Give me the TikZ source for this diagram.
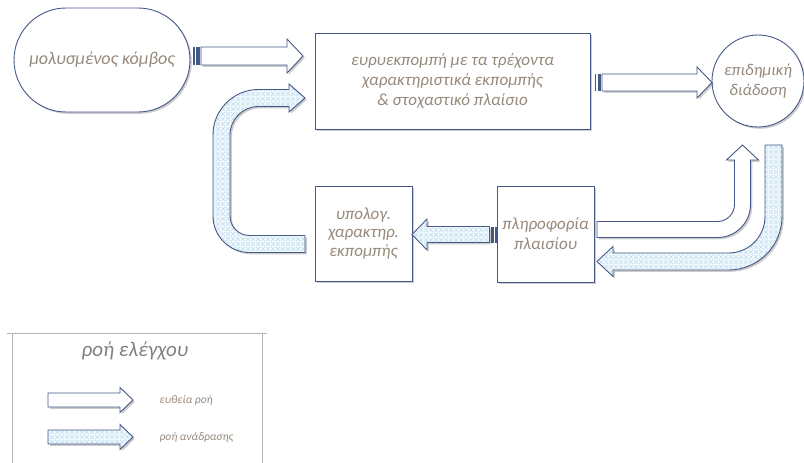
\documentclass[tikz,border=0pt]{standalone}
\usepackage{fontspec}
\setmainfont{Carlito}
\usetikzlibrary{patterns.meta,shadows}

\definecolor{edge}{RGB}{70,88,135}
\definecolor{txt}{RGB}{150,137,123}
\definecolor{hatchbg}{RGB}{242,249,253}
\definecolor{hatchln}{RGB}{192,222,240}
\definecolor{framegray}{RGB}{180,180,180}
\definecolor{titlegray}{RGB}{128,128,128}

% diagonal lattice used inside the feedback arrows
\tikzdeclarepattern{
  name=diamondgrid,
  type=uncolored,
  bounding box={(0pt,0pt) and (4.5pt,4.5pt)},
  tile size={(4.5pt,4.5pt)},
  code={
    \draw[line width=0.6pt] (0pt,0pt) -- (4.5pt,4.5pt) (0pt,4.5pt) -- (4.5pt,0pt);
  }
}

\tikzset{
  softshadow/.style={drop shadow={shadow xshift=1.8pt, shadow yshift=-1.8pt, fill=black, opacity=0.2}},
  box/.style={draw=edge, line width=0.9pt, fill=white, softshadow,
    font=\itshape\fontsize{17}{20}\selectfont, text=txt, align=center, inner sep=2pt},
  straightflow/.style={draw=edge, line width=0.9pt, fill=white, softshadow},
  feedbackflow/.style={draw=edge, line width=0.9pt, softshadow,
    preaction={fill=hatchbg}, pattern={diamondgrid}, pattern color=hatchln},
  stripe/.style={fill=edge, draw=none},
  legendtext/.style={font=\itshape\fontsize{11.5}{13}\selectfont, text=txt, anchor=west}
}

\begin{document}
\begin{tikzpicture}[x=1pt, y=-1pt]
\useasboundingbox (0,0) rectangle (804,463);

% ---------- nodes ----------
\node[box, rounded corners=52pt, minimum width=176pt, minimum height=104pt,
      font=\itshape\fontsize{18}{20}\selectfont] (infected) at (102,60) {μολυσμένος κόμβος};
\node[box, minimum width=275pt, minimum height=96pt] (broadcast) at (452.5,81)
  {ευρυεκπομπή με τα τρέχοντα\\χαρακτηριστικά εκπομπής\\\& στοχαστικό πλαίσιο};
\node[box, circle, minimum size=92pt, inner sep=0pt, font=\itshape\fontsize{16.5}{20}\selectfont]
  (spread) at (758,81) {επιδημική\\διάδοση};
\node[box, minimum width=97pt, minimum height=95pt, font=\itshape\fontsize{17}{18.5}\selectfont]
  (compute) at (363.5,233.5) {υπολογ.\\χαρακτηρ.\\εκπομπής};
\node[box, minimum width=97pt, minimum height=96pt] (context) at (545.5,234)
  {πληροφορία\\πλαισίου};

% ---------- straight flows ----------
% infected node -> broadcast
\fill[stripe] (193,47) rectangle (194.8,65);
\fill[stripe] (196.3,47) rectangle (199.6,65);
\draw[straightflow] (201,47) -- (287,47) -- (287,39) -- (303,56) -- (287,73) -- (287,65) -- (201,65) -- cycle;

% broadcast -> epidemic spread
\fill[stripe] (594.5,74) rectangle (596.2,91);
\fill[stripe] (597.6,74) rectangle (600.6,91);
\draw[straightflow] (602,74) -- (697,74) -- (697,67) -- (712,82.5) -- (697,98) -- (697,91) -- (602,91) -- cycle;

% context info -> epidemic spread (bent upwards)
\draw[straightflow] (597,221.5) -- (717.5,221.5) arc[start angle=90, end angle=0, radius=17]
  -- (734.5,160) -- (726.5,160) -- (742.5,145) -- (758.5,160) -- (750.5,160)
  -- (750.5,204.5) arc[start angle=0, end angle=90, radius=33] -- (597,237.5) -- cycle;

% ---------- feedback flows ----------
% epidemic spread -> context info
\draw[feedbackflow] (765,145) -- (765,216.5) arc[start angle=0, end angle=90, radius=36.5]
  -- (613,253) -- (613,246.5) -- (597,261.5) -- (613,276.5) -- (613,270)
  -- (728.5,270) arc[start angle=90, end angle=0, radius=53.5] -- (782,145) -- cycle;

% context info -> compute
\fill[stripe] (495.2,226.5) rectangle (497,242.5);
\fill[stripe] (491,226.5) rectangle (494,242.5);
\draw[feedbackflow] (489.5,226.5) -- (427,226.5) -- (427,219) -- (412,234.5) -- (427,250) -- (427,242.5) -- (489.5,242.5) -- cycle;

% compute -> broadcast (C-shaped return)
\draw[feedbackflow] (305,252.5) -- (249.5,252.5) arc[start angle=90, end angle=180, radius=36.5]
  -- (213,135) arc[start angle=180, end angle=270, radius=45.5]
  -- (289,89.5) -- (289,84) -- (305,98) -- (289,112) -- (289,106.5)
  -- (258.5,106.5) arc[start angle=270, end angle=180, radius=28.5]
  -- (230,216) arc[start angle=180, end angle=90, radius=19.5] -- (305,235.5) -- cycle;

% ---------- legend ----------
\draw[framegray, line width=0.8pt] (7,333) -- (267,333);
\draw[framegray, line width=0.8pt] (12,333) -- (12,463);
\draw[framegray, line width=0.8pt] (262,333) -- (262,463);
\node[font=\itshape\fontsize{21}{24}\selectfont, text=titlegray] (legtitle) at (135,351) {ροή ελέγχου};

\draw[straightflow] (48,393) -- (120,393) -- (120,387.5) -- (133,400) -- (120,412.5) -- (120,407) -- (48,407) -- cycle;
\node[legendtext] (legstraight) at (156,400) {ευθεία ροή};

\draw[feedbackflow] (48,430) -- (120,430) -- (120,424.5) -- (133,437) -- (120,449.5) -- (120,444) -- (48,444) -- cycle;
\node[legendtext] (legfeedback) at (156,437) {ροή ανάδρασης};

\end{tikzpicture}
\end{document}
